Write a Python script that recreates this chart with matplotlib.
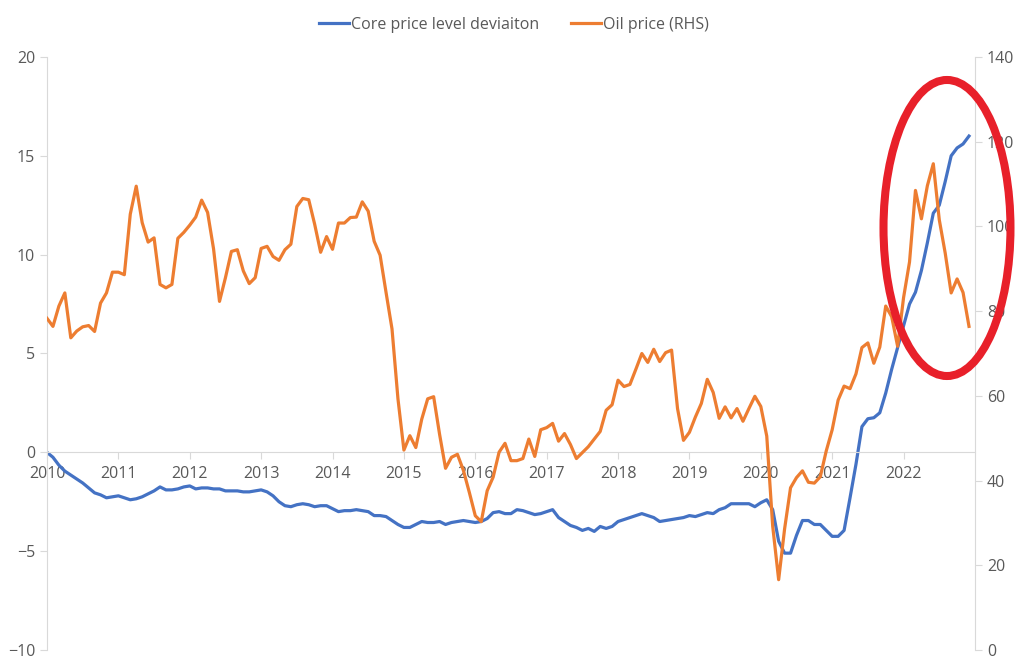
import matplotlib.pyplot as plt
from matplotlib.patches import Ellipse

years = ['2010', '2011', '2012', '2013', '2014', '2015', '2016',
         '2017', '2018', '2019', '2020', '2021', '2022']

# core price level deviation, monthly Jan 2010 - Dec 2022 (left axis)
core = [0.0, -0.25, -0.65, -0.95, -1.15, -1.35, -1.55, -1.8, -2.05, -2.15, -2.3, -2.25,
        -2.2, -2.3, -2.4, -2.35, -2.25, -2.1, -1.95, -1.75, -1.9, -1.9, -1.85, -1.75,
        -1.7, -1.85, -1.8, -1.8, -1.85, -1.85, -1.95, -1.95, -1.95, -2.0, -2.0, -1.95,
        -1.9, -2.0, -2.2, -2.5, -2.7, -2.75, -2.65, -2.6, -2.65, -2.75, -2.7, -2.7,
        -2.85, -3.0, -2.95, -2.95, -2.9, -2.95, -3.0, -3.2, -3.2, -3.25, -3.45, -3.65,
        -3.8, -3.8, -3.65, -3.5, -3.55, -3.55, -3.5, -3.65, -3.55, -3.5, -3.45, -3.5,
        -3.55, -3.5, -3.35, -3.05, -3.0, -3.1, -3.1, -2.9, -2.95, -3.05, -3.15, -3.1,
        -3.0, -2.9, -3.3, -3.5, -3.7, -3.8, -3.95, -3.85, -4.0, -3.75, -3.85, -3.75,
        -3.5, -3.4, -3.3, -3.2, -3.1, -3.2, -3.3, -3.5, -3.45, -3.4, -3.35, -3.3,
        -3.2, -3.25, -3.15, -3.05, -3.1, -2.9, -2.8, -2.6, -2.6, -2.6, -2.6, -2.75,
        -2.55, -2.4, -2.9, -4.5, -5.1, -5.1, -4.2, -3.45, -3.45, -3.65, -3.65, -3.95,
        -4.25, -4.25, -3.95, -2.3, -0.6, 1.3, 1.7, 1.75, 2.0, 3.0, 4.2, 5.3,
        6.4, 7.5, 8.1, 9.2, 10.6, 12.1, 12.5, 13.7, 15.0, 15.4, 15.6, 16.0]

# oil price, monthly (right axis)
oil = [78.3, 76.4, 81.2, 84.3, 73.7, 75.3, 76.3, 76.6, 75.2, 81.9, 84.3, 89.2,
       89.2, 88.6, 102.9, 109.5, 100.9, 96.3, 97.3, 86.3, 85.5, 86.3, 97.2, 98.6,
       100.3, 102.2, 106.2, 103.3, 94.7, 82.3, 87.9, 94.1, 94.5, 89.5, 86.5, 87.9,
       94.8, 95.3, 92.9, 92.0, 94.5, 95.8, 104.7, 106.6, 106.3, 100.5, 93.9, 97.6,
       94.6, 100.8, 100.8, 102.1, 102.2, 105.8, 103.6, 96.5, 93.2, 84.4, 75.8, 59.3,
       47.2, 50.6, 47.8, 54.5, 59.3, 59.8, 50.9, 42.9, 45.5, 46.2, 42.4, 37.2,
       31.7, 30.3, 37.6, 40.8, 46.7, 48.8, 44.7, 44.7, 45.2, 49.8, 45.7, 52.0,
       52.5, 53.5, 49.3, 51.1, 48.5, 45.2, 46.6, 48.0, 49.8, 51.6, 56.6, 57.9,
       63.7, 62.2, 62.7, 66.3, 70.0, 67.9, 71.0, 68.1, 70.2, 70.8, 57.0, 49.5,
       51.4, 55.0, 58.2, 63.9, 60.8, 54.7, 57.4, 54.8, 57.0, 54.0, 57.0, 59.9,
       57.5, 50.5, 29.2, 16.6, 28.6, 38.3, 40.7, 42.3, 39.6, 39.4, 40.9, 47.0,
       52.0, 59.0, 62.3, 61.7, 65.2, 71.4, 72.5, 67.7, 71.5, 81.2, 78.7, 71.7,
       83.2, 91.6, 108.5, 101.8, 109.6, 114.8, 101.6, 93.7, 84.3, 87.6, 84.4, 76.4]

blue = '#4472C4'
orange = '#ED7D31'
grey_txt = '#595959'
grey_ln = '#D9D9D9'

plt.rcParams['font.family'] = ['Open Sans', 'DejaVu Sans']

fig = plt.figure(figsize=(10.24, 6.69), dpi=100)
ax = fig.add_axes([0.0459, 0.0284, 0.9062, 0.8864])
ax2 = ax.twinx()

months = list(range(len(core)))
ax.plot(months, core, color=blue, lw=2.3, label='Core price level deviaiton')
ax2.plot(months, oil, color=orange, lw=2.3, label='Oil price (RHS)')

ax.set_xlim(0, 156)
ax.set_ylim(-10, 20)
ax2.set_ylim(0, 140)
ax.set_yticks(range(-10, 21, 5))
ax2.set_yticks(range(0, 141, 20))
ax.set_xticks([12 * i for i in range(len(years))])
ax.set_xticklabels(years)

ax.spines['bottom'].set_position(('data', 0))
for a in (ax, ax2):
    a.spines['top'].set_visible(False)
    a.spines['bottom'].set_color(grey_ln)
    a.spines['left'].set_color(grey_ln)
    a.spines['right'].set_color(grey_ln)
ax2.spines['bottom'].set_visible(False)
ax.spines['right'].set_visible(False)
ax2.spines['left'].set_visible(False)

ax.tick_params(axis='both', colors=grey_ln, labelcolor=grey_txt, labelsize=11.5, length=5)
ax.tick_params(axis='x', pad=5)
ax2.tick_params(axis='y', colors=grey_ln, labelcolor=grey_txt, labelsize=11.5, length=5)

# legend at the top
h1, l1 = ax.get_legend_handles_labels()
h2, l2 = ax2.get_legend_handles_labels()
fig.legend(h1 + h2, l1 + l2, loc='center', bbox_to_anchor=(0.502, 0.963), ncol=2,
           frameon=False, fontsize=11.5, labelcolor=grey_txt, handlelength=1.9,
           handletextpad=0.1, columnspacing=2.0)

# red ring around 2022
ring = Ellipse((0.9248, 0.6592), 0.124, 0.4425, transform=fig.transFigure,
               fill=False, edgecolor='#E8202A', lw=5.8, clip_on=False)
fig.add_artist(ring)

fig.savefig('out.png', dpi=100)
